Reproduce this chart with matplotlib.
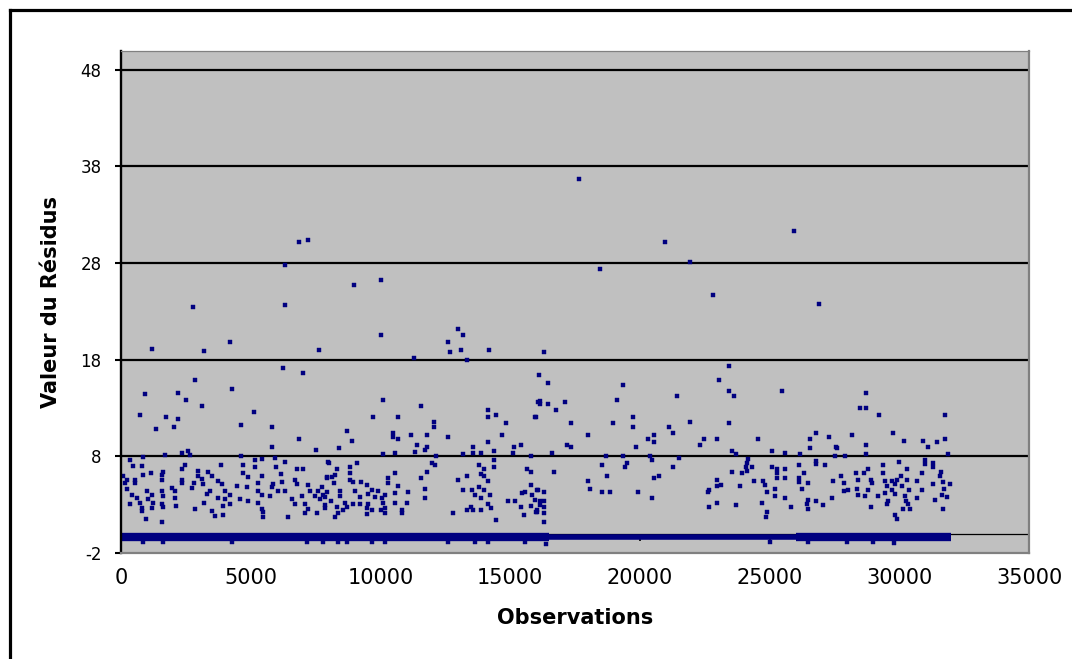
import matplotlib
matplotlib.use("Agg")
import matplotlib.pyplot as plt
from matplotlib.lines import Line2D

plt.rcParams['font.family'] = ['DejaVu Sans']
plt.rcParams['axes.unicode_minus'] = False

# ---------------- data ----------------
x_ticks = [0, 5000, 10000, 15000, 20000, 25000, 30000, 35000]
x_tick_labels = ['0', '5000', '10000', '15000', '20000', '25000', '30000', '35000']
y_ticks = [-2, 8, 18, 28, 38, 48]
y_tick_labels = ['-2', '8', '18', '28', '38', '48']
x_label = 'Observations'
y_label = 'Valeur du Résidus'

# dense band of near-zero residuals (start, end observation, level)
band_starts = [0, 16500, 26000]
band_ends = [16500, 26000, 32000]
band_level = -0.35

# high, isolated residuals
pts_high = [(6850, 30.2), (7210, 30.4), (6320, 27.8), (8980, 25.7), (10020, 26.3),
            (2760, 23.5), (6320, 23.7), (10020, 20.6), (1195, 19.1), (3200, 18.9),
            (4200, 19.8), (7630, 19.0), (11280, 18.2), (12600, 19.8), (12990, 21.2),
            (13180, 20.6), (12680, 18.8), (13100, 19.0), (14190, 19.0), (13340, 18.0),
            (6250, 17.1), (7000, 16.6), (2850, 15.9), (16110, 16.4),
            (17660, 36.7), (20970, 30.2), (25940, 31.3), (21930, 28.1), (18470, 27.4),
            (22820, 24.7), (26910, 23.8), (16310, 18.8), (23440, 17.3), (23050, 15.9)]

pts_0_8k = [(925, 14.5), (2180, 14.6), (4270, 15.0), (2490, 13.8), (3110, 13.2), (730, 12.3),
            (1730, 12.1), (2180, 11.9), (5140, 12.6), (1340, 10.8), (2030, 11.0), (4630, 11.2),
            (5810, 11.0), (6880, 9.8), (5810, 9.0), (7520, 8.7), (2340, 8.4), (2570, 8.6),
            (2660, 8.1), (1700, 8.1), (860, 7.9), (4630, 8.0), (5420, 7.7), (5940, 7.8),
            (5170, 7.6), (350, 7.6), (480, 7.0), (820, 7.0), (2470, 7.1), (3850, 7.1),
            (4720, 7.1), (5170, 6.9), (5960, 6.9), (6320, 7.4), (7990, 7.4), (6770, 6.7),
            (7030, 6.7), (1630, 6.4), (2340, 6.7), (2950, 6.5), (3370, 6.4), (90, 6.0),
            (220, 5.6), (150, 5.2), (860, 6.1), (1160, 6.3), (1570, 6.1), (540, 5.6),
            (540, 5.2), (1570, 5.6), (2340, 5.6), (2340, 5.2), (2980, 6.0), (3140, 5.7),
            (3490, 6.0), (4720, 6.3), (4910, 5.9), (5420, 6.0), (6160, 6.2), (7940, 5.9),
            (6710, 5.6), (6190, 5.3), (3750, 5.4), (3880, 5.1), (2830, 5.2), (3170, 5.1),
            (5290, 5.2), (5870, 5.1), (6770, 5.1), (7220, 5.0), (1950, 4.7), (4460, 4.9),
            (4850, 4.8), (5810, 4.8), (7740, 4.8), (220, 4.6), (990, 4.4), (1570, 4.4),
            (2080, 4.4), (2730, 4.7), (3430, 4.4), (4010, 4.4), (5290, 4.4), (6060, 4.4),
            (6320, 4.4), (7290, 4.4), (7610, 4.4), (410, 4.0), (1180, 4.0), (1630, 3.9),
            (3300, 4.1), (4200, 4.0), (5420, 4.0), (5740, 3.9), (6960, 3.9), (7480, 3.9),
            (7800, 4.0), (600, 3.7), (1050, 3.6), (2080, 3.7), (3750, 3.7), (4010, 3.6),
            (4590, 3.6), (4910, 3.4), (6580, 3.6), (7670, 3.6), (350, 3.1), (730, 3.2),
            (1250, 3.2), (1570, 3.1), (3210, 3.2), (4200, 3.1), (5290, 3.2), (6710, 3.1),
            (7090, 3.1), (7860, 3.0), (800, 2.7), (1180, 2.7), (1630, 2.8), (2110, 2.9),
            (2850, 2.6), (3940, 2.9), (5420, 2.6), (7220, 2.6), (800, 2.3), (3490, 2.3),
            (5490, 2.2), (7090, 2.1), (7540, 2.1), (3620, 1.8), (3940, 1.9), (5490, 1.7),
            (6450, 1.7), (950, 1.5), (1590, 1.2)]

pts_8k_16k = [(16090, 13.6), (10100, 13.8), (11550, 13.2), (9710, 12.1), (10680, 12.1),
              (14160, 12.8), (14160, 12.1), (14450, 12.3), (15960, 12.1), (14830, 11.5),
              (12080, 11.6), (12080, 11.0), (8700, 10.6), (10500, 10.4), (10500, 10.0),
              (10670, 9.8), (11190, 10.2), (11780, 10.2), (12620, 10.0), (14670, 10.2),
              (8890, 9.6), (14160, 9.5), (11400, 9.2), (11780, 9.0), (11720, 8.7),
              (11330, 8.5), (8400, 8.9), (10560, 8.4), (13560, 9.0), (13560, 8.4),
              (13880, 8.4), (14380, 8.6), (15160, 9.0), (15420, 9.2), (15110, 8.4),
              (10100, 8.2), (13170, 8.2), (15810, 8.0), (12160, 8.0), (14380, 7.6),
              (8020, 7.3), (9090, 7.3), (12000, 7.3), (12100, 7.1), (13800, 7.1),
              (14380, 6.9), (8830, 6.9), (8310, 6.7), (14000, 6.7), (15640, 6.7),
              (15810, 6.4), (11780, 6.4), (8250, 6.1), (8830, 6.3), (10560, 6.3),
              (11550, 5.8), (13330, 6.0), (13880, 6.2), (14000, 6.0), (7930, 5.8),
              (8120, 5.9), (10300, 5.8), (12980, 5.6), (8830, 5.6), (14160, 5.4),
              (8220, 5.2), (8950, 5.3), (9250, 5.3), (10300, 5.2), (9470, 5.0),
              (15810, 5.0), (10670, 4.9), (11720, 4.6), (13190, 4.5), (13520, 4.5),
              (13800, 4.8), (14000, 4.5), (15570, 4.3), (16020, 4.5), (7930, 4.3),
              (8440, 4.4), (9020, 4.4), (9660, 4.5), (9920, 4.4), (10560, 4.2),
              (11050, 4.3), (9540, 4.1), (10180, 4.0), (13650, 4.0), (14220, 4.0),
              (15450, 4.2), (15830, 4.0), (7860, 3.8), (8440, 3.9), (9210, 3.8),
              (9790, 3.8), (10050, 3.7), (11720, 3.7), (13880, 3.7), (14900, 3.4),
              (15190, 3.4), (15960, 3.5), (8100, 3.4), (8640, 3.2), (8950, 3.1),
              (9210, 3.1), (9540, 3.1), (10110, 3.2), (10560, 3.2), (11010, 3.2),
              (14160, 3.1), (8310, 2.8), (8700, 2.8), (9470, 2.7), (10180, 2.7),
              (13490, 2.8), (14260, 2.7), (15420, 2.8), (15810, 2.9), (7860, 2.7),
              (8570, 2.4), (9660, 2.5), (10020, 2.4), (10820, 2.5), (13330, 2.4),
              (13580, 2.4), (13880, 2.4), (15990, 2.2), (8380, 2.1), (9470, 2.0),
              (10180, 2.1), (10820, 2.1), (12810, 2.1), (8250, 1.7), (15550, 1.9),
              (14450, 1.4)]

pts_16k_24k = [(16450, 15.6), (19340, 15.4), (16150, 13.7), (16150, 13.4), (16450, 13.4),
               (17120, 13.6), (19110, 13.8), (21430, 14.2), (23450, 14.8), (23630, 14.2),
               (16770, 12.8), (16010, 12.1), (19750, 12.1), (17350, 11.5), (18970, 11.5),
               (21920, 11.6), (23450, 11.5), (19750, 11.0), (21120, 11.0), (17990, 10.2),
               (20550, 10.2), (21280, 10.4), (20320, 9.8), (22470, 9.8), (22960, 9.8),
               (20550, 9.5), (17190, 9.2), (17350, 9.0), (19850, 9.0), (22310, 9.2),
               (16600, 8.4), (23560, 8.6), (23700, 8.2), (18680, 8.0), (19340, 8.0),
               (20390, 8.0), (21510, 7.8), (20460, 7.6), (18530, 7.1), (19490, 7.3),
               (19430, 6.9), (21270, 6.9), (24160, 7.7), (24080, 6.9), (16690, 6.4),
               (23540, 6.4), (23920, 6.3), (18750, 6.0), (20740, 6.0), (20550, 5.8),
               (22960, 5.6), (17990, 5.4), (23130, 5.0), (22960, 4.9), (23850, 4.9),
               (18080, 4.6), (22650, 4.5), (18530, 4.3), (18830, 4.3), (19920, 4.3),
               (16310, 4.3), (22640, 4.3), (20460, 3.7), (16060, 4.5), (16150, 3.4),
               (16310, 3.4), (22960, 3.2), (16150, 3.0), (23710, 3.0), (22650, 2.8),
               (16310, 2.8), (16030, 2.5), (16310, 2.1), (16030, 2.2), (16310, 1.2)]

pts_24k_32k = [(25480, 14.8), (28720, 14.6), (28490, 13.0), (28710, 13.0), (29230, 12.3),
               (31760, 12.3), (24570, 9.8), (26790, 10.4), (26570, 9.8), (27310, 10.0),
               (28190, 10.2), (29750, 10.4), (30200, 9.6), (30900, 9.6), (31440, 9.5),
               (31760, 9.8), (25110, 8.6), (25600, 8.4), (26560, 8.9), (27550, 9.0),
               (27590, 8.9), (28720, 9.2), (31090, 9.0), (26170, 8.2), (27520, 8.0),
               (27910, 8.0), (28720, 8.2), (31890, 8.2), (24120, 7.3), (24120, 6.5),
               (24340, 6.9), (26790, 7.5), (26790, 7.2), (27140, 7.1), (26140, 7.1),
               (25110, 6.9), (31000, 7.6), (31000, 7.2), (31310, 7.3), (29990, 7.4),
               (29360, 7.1), (25280, 6.7), (25600, 6.7), (30290, 6.7), (28810, 6.7),
               (31290, 6.9), (31610, 6.4), (25280, 6.3), (26340, 6.3), (28350, 6.3),
               (28640, 6.3), (29360, 6.3), (30870, 6.3), (27750, 6.0), (30060, 6.0),
               (31570, 6.0), (25280, 5.8), (25600, 5.8), (26140, 5.8), (28420, 5.6),
               (28910, 5.6), (29900, 5.6), (30290, 5.6), (24410, 5.4), (24760, 5.4),
               (26140, 5.3), (26500, 5.2), (27460, 5.4), (27850, 5.2), (28940, 5.2),
               (29450, 5.4), (29710, 5.4), (30670, 5.4), (31670, 5.3), (24830, 5.0),
               (29520, 4.9), (29840, 5.1), (30120, 4.9), (31310, 5.1), (31960, 5.1),
               (25200, 4.6), (26240, 4.6), (28360, 4.6), (28810, 4.5), (29710, 4.5),
               (30380, 4.5), (30870, 4.5), (31740, 4.6), (24890, 4.3), (27850, 4.4),
               (28040, 4.5), (29450, 4.2), (29840, 4.1), (25200, 3.9), (28420, 4.0),
               (28680, 3.9), (29170, 3.9), (30220, 3.9), (30670, 3.7), (31660, 4.0),
               (31850, 3.8), (25600, 3.7), (26500, 3.5), (26790, 3.4), (27400, 3.7),
               (29550, 3.4), (30260, 3.4), (31380, 3.5), (24700, 3.2), (26430, 3.1),
               (27070, 3.0), (29520, 3.1), (30350, 3.1), (25830, 2.8), (26500, 2.6),
               (28910, 2.8), (30160, 2.6), (30410, 2.6), (31700, 2.6), (24890, 2.2),
               (29840, 1.9), (24860, 1.7), (29900, 1.5)]

pts_below_band = [(860, -0.9), (1620, -0.9), (4280, -0.9), (7170, -0.9), (7790, -0.9),
                  (8370, -0.9), (8710, -0.9), (9680, -0.9), (10180, -0.9), (12610, -0.9),
                  (13650, -0.9), (14150, -0.9), (15570, -0.9), (16380, -1.1),
                  (25000, -0.9), (26500, -0.9), (28000, -0.9), (29000, -0.9), (29800, -1.0)]

# ---------------- figure ----------------
W, H = 1072, 659
fig = plt.figure(figsize=(W / 100, H / 100), dpi=100)
fig.patch.set_facecolor('white')

ax = fig.add_axes([121 / W, 1 - 553 / H, (1029 - 121) / W, (553 - 50.5) / H])
ax.set_facecolor('#c0c0c0')
ax.set_xlim(0, 35000)
ax.set_ylim(-2, 50)

navy = '#000080'

# gridlines
for yv in y_ticks[1:]:
    ax.axhline(yv, color='black', lw=1.6, zorder=1)

# x axis line crossing at 0, with tick marks
ax.axhline(0, color='black', lw=0.9, zorder=1)
ax.vlines(x_ticks, -0.75, 0, color='black', lw=1.2, zorder=1)

# dense band
for s, e, lw in zip(band_starts, band_ends, [6.0, 4.0, 6.0]):
    ax.plot([s, e], [band_level, band_level], color=navy, lw=lw,
            solid_capstyle='butt', zorder=3, clip_on=False)

all_groups = [pts_high, pts_0_8k, pts_8k_16k, pts_16k_24k, pts_24k_32k, pts_below_band]
for grp in all_groups:
    xs = [p[0] for p in grp]
    ys = [p[1] for p in grp]
    ax.plot(xs, ys, linestyle='none', marker='s', markersize=3.2,
            markerfacecolor=navy, markeredgecolor=navy, markeredgewidth=0.3, zorder=4)

# spines
for side in ['top', 'right', 'bottom']:
    ax.spines[side].set_color('#808080')
    ax.spines[side].set_linewidth(1.6)
ax.spines['top'].set_linewidth(0.9)
ax.spines['left'].set_color('black')
ax.spines['left'].set_linewidth(1.7)
for sp in ax.spines.values():
    sp.set_zorder(5)

ax.set_yticks(y_ticks)
ax.set_yticklabels(y_tick_labels, fontsize=12)
ax.tick_params(axis='y', direction='out', length=4, width=1.5, color='black', pad=10)

ax.set_xticks(x_ticks)
ax.set_xticklabels(x_tick_labels, fontsize=15)
ax.tick_params(axis='x', length=0, pad=11)

ax.set_xlabel(x_label, fontsize=15, fontweight='bold', labelpad=14)
ax.set_ylabel(y_label, fontsize=15, fontweight='bold', labelpad=14)

# outer frame (partly cut off at right and bottom)
fig.add_artist(Line2D([10 / W, 1.0], [1 - 10 / H, 1 - 10 / H], transform=fig.transFigure,
                      color='black', lw=2.3))
fig.add_artist(Line2D([10 / W, 10 / W], [0.0, 1 - 10 / H], transform=fig.transFigure,
                      color='black', lw=2.3))

fig.savefig('out.png', dpi=100, facecolor='white')
